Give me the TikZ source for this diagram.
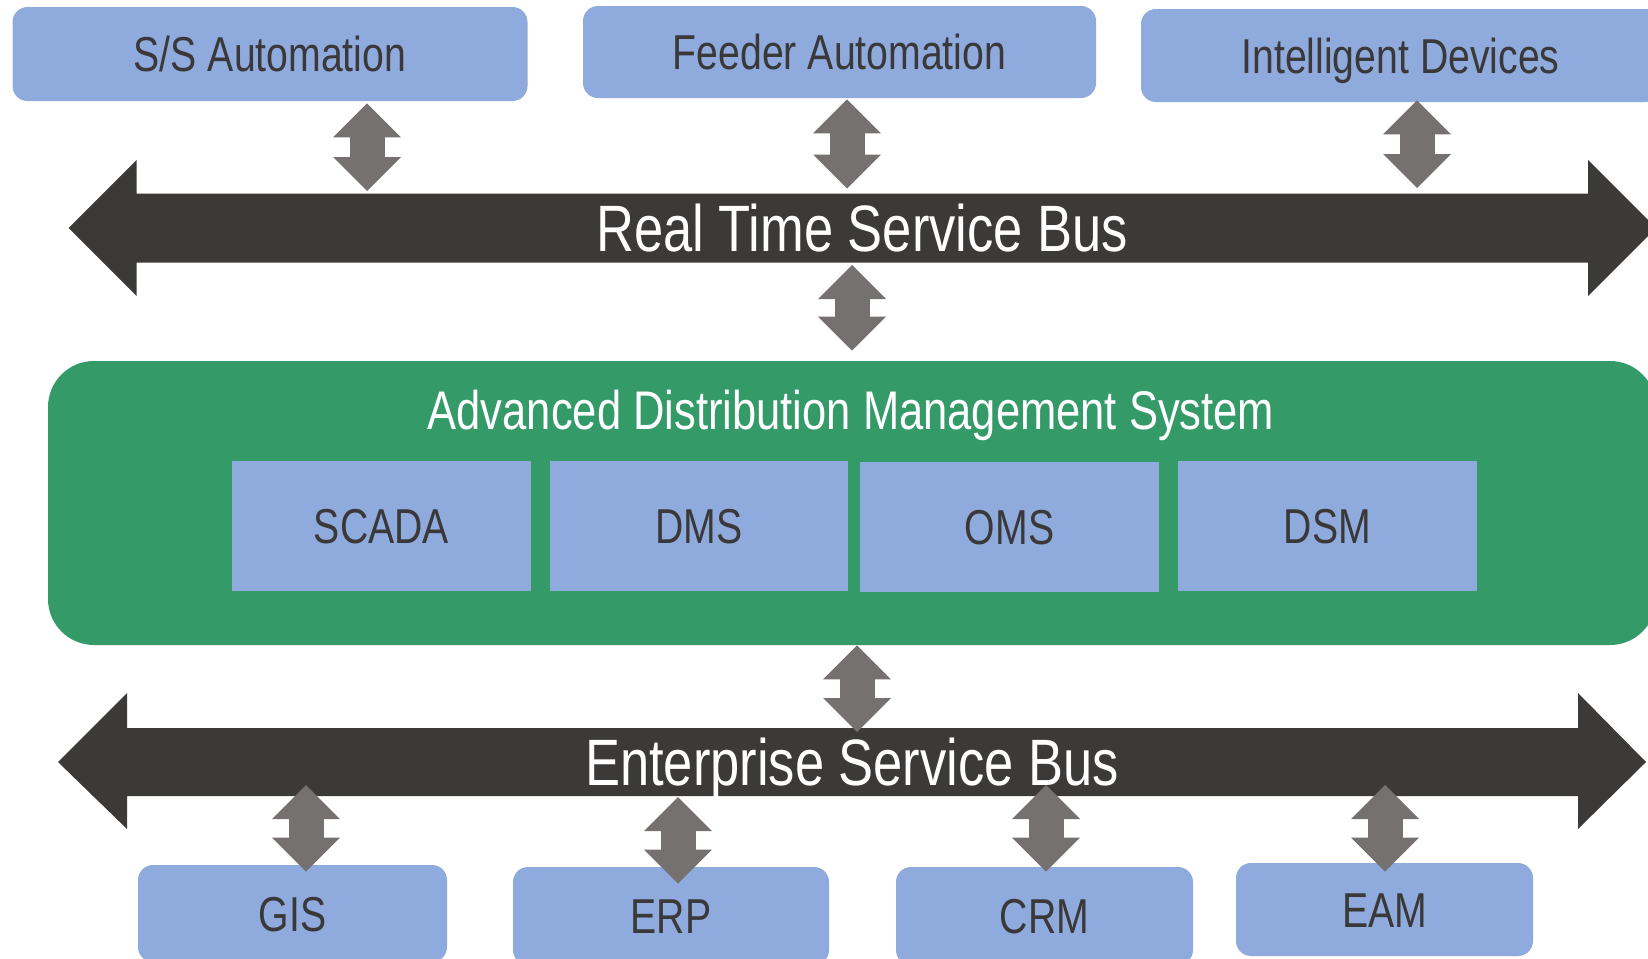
\documentclass[tikz,border=0pt]{standalone}
\usepackage{fontspec}
\setmainfont{Liberation Sans}[FakeStretch=0.8]
\usetikzlibrary{arrows.meta}
\definecolor{boxblue}{HTML}{8FAADC}
\definecolor{textdark}{HTML}{3A3838}
\definecolor{admsgreen}{HTML}{349A68}
\definecolor{busdark}{HTML}{3B3A38}
\definecolor{linkgray}{HTML}{767171}

\begin{document}
\begin{tikzpicture}[x=0.5pt,y=-0.5pt,
  unit/.style={fill=boxblue, text=textdark, inner sep=0pt,
    font=\fontsize{24.5pt}{28pt}\selectfont, text height=17.5pt, text depth=0pt},
  app/.style={unit, rounded corners=7.5pt},
  module/.style={unit},
  platform/.style={fill=admsgreen, rounded corners=23pt, inner sep=0pt},
  platformtitle/.style={text=white, font=\fontsize{27.2pt}{32pt}\selectfont,
    inner sep=0pt, text height=19.5pt, text depth=0pt},
  bus/.style={fill=busdark},
  buslabel/.style={text=white, font=\fontsize{32.8pt}{38pt}\selectfont,
    inner sep=0pt, text height=23.5pt, text depth=0pt},
  link/.style={draw=linkgray, line width=17.5pt,
    {Triangle[width=34pt,length=17pt,line width=0pt]}-{Triangle[width=34pt,length=17pt,line width=0pt]}}
]
% page frame
\fill[white] (0,0) rectangle (1648,958);
\useasboundingbox (0,0) rectangle (1648,958);

% service buses (double-headed block arrows)
\coordinate (rtTop) at (0,193.5);
\coordinate (rtBot) at (0,262.5);
\coordinate (esTop) at (0,728);
\coordinate (esBot) at (0,796);
\fill[bus] (68.6,228) -- (136.6,160) -- (136.6,193.5) -- (1588,193.5) -- (1588,160)
  -- (1656,228) -- (1588,296) -- (1588,262.5) -- (136.6,262.5) -- (136.6,296) -- cycle;
\fill[bus] (58,762) -- (127,693) -- (127,728) -- (1578,728) -- (1578,693)
  -- (1646,762) -- (1578,829) -- (1578,796) -- (127,796) -- (127,829) -- cycle;
\node[buslabel] (rtb) at (862,228) {Real Time Service Bus};
\node[buslabel] (esb) at (852,762) {Enterprise Service Bus};

% field systems
\node[app, minimum width=257.5pt, minimum height=47pt] (ss) at (270,54) {S/S Automation};
\node[app, minimum width=256.5pt, minimum height=46pt] (fa) at (839.5,52) {Feeder Automation};
\node[app, minimum width=259.5pt, minimum height=46.5pt] (id) at (1400.5,55.5) {Intelligent Devices};

% ADMS platform
\node[platform, minimum width=804pt, minimum height=142pt] (adms) at (852,503) {};
\node[platformtitle] (admst) at (851,410) {Advanced Distribution Management System};
\node[module, minimum width=149.5pt, minimum height=65pt] (scada) at (381.5,526) {SCADA};
\node[module, minimum width=149pt, minimum height=65pt] (dms) at (699,526) {DMS};
\node[module, minimum width=149.5pt, minimum height=65pt] (oms) at (1009.5,527) {OMS};
\node[module, minimum width=149.5pt, minimum height=65pt] (dsm) at (1327.5,526) {DSM};

% enterprise applications
\node[app, minimum width=154.5pt, minimum height=48.5pt] (gis) at (292.5,913.5) {GIS};
\node[app, minimum width=158pt, minimum height=49pt] (erp) at (671,916) {ERP};
\node[app, minimum width=148.5pt, minimum height=49pt] (crm) at (1044.5,916) {CRM};
\node[app, minimum width=148.5pt, minimum height=46.5pt] (eam) at (1384.5,909.5) {EAM};

% link positions
\coordinate (x1) at (367,0);
\coordinate (x2) at (847,0);
\coordinate (x3) at (1417,0);
\coordinate (x4) at (852,0);
\coordinate (x5) at (857,0);
\coordinate (x6) at (306,0);
\coordinate (x7) at (678,0);
\coordinate (x8) at (1046,0);
\coordinate (x9) at (1385,0);

% two-way links
\draw[link, shorten <=1pt, shorten >=1.25pt] (ss.south -| x1) -- (rtTop -| x1);
\draw[link, shorten <=0.5pt, shorten >=2.5pt] (fa.south -| x2) -- (rtTop -| x2);
\draw[link, shorten <=-1pt, shorten >=2.75pt] (id.south -| x3) -- (rtTop -| x3);
\draw[link, shorten <=1.25pt, shorten >=5pt] (rtBot -| x4) -- (adms.north -| x4);
\draw[link, shorten <=0pt, shorten >=-2pt] (adms.south -| x5) -- (esTop -| x5);
\draw[link, shorten <=-5.5pt, shorten >=-3.5pt] (esBot -| x6) -- (gis.north -| x6);
\draw[link, shorten <=0.5pt, shorten >=-8.5pt] (esBot -| x7) -- (erp.north -| x7);
\draw[link, shorten <=-5.5pt, shorten >=-2.5pt] (esBot -| x8) -- (crm.north -| x8);
\draw[link, shorten <=-5.5pt, shorten >=-4.5pt] (esBot -| x9) -- (eam.north -| x9);
\end{tikzpicture}
\end{document}
